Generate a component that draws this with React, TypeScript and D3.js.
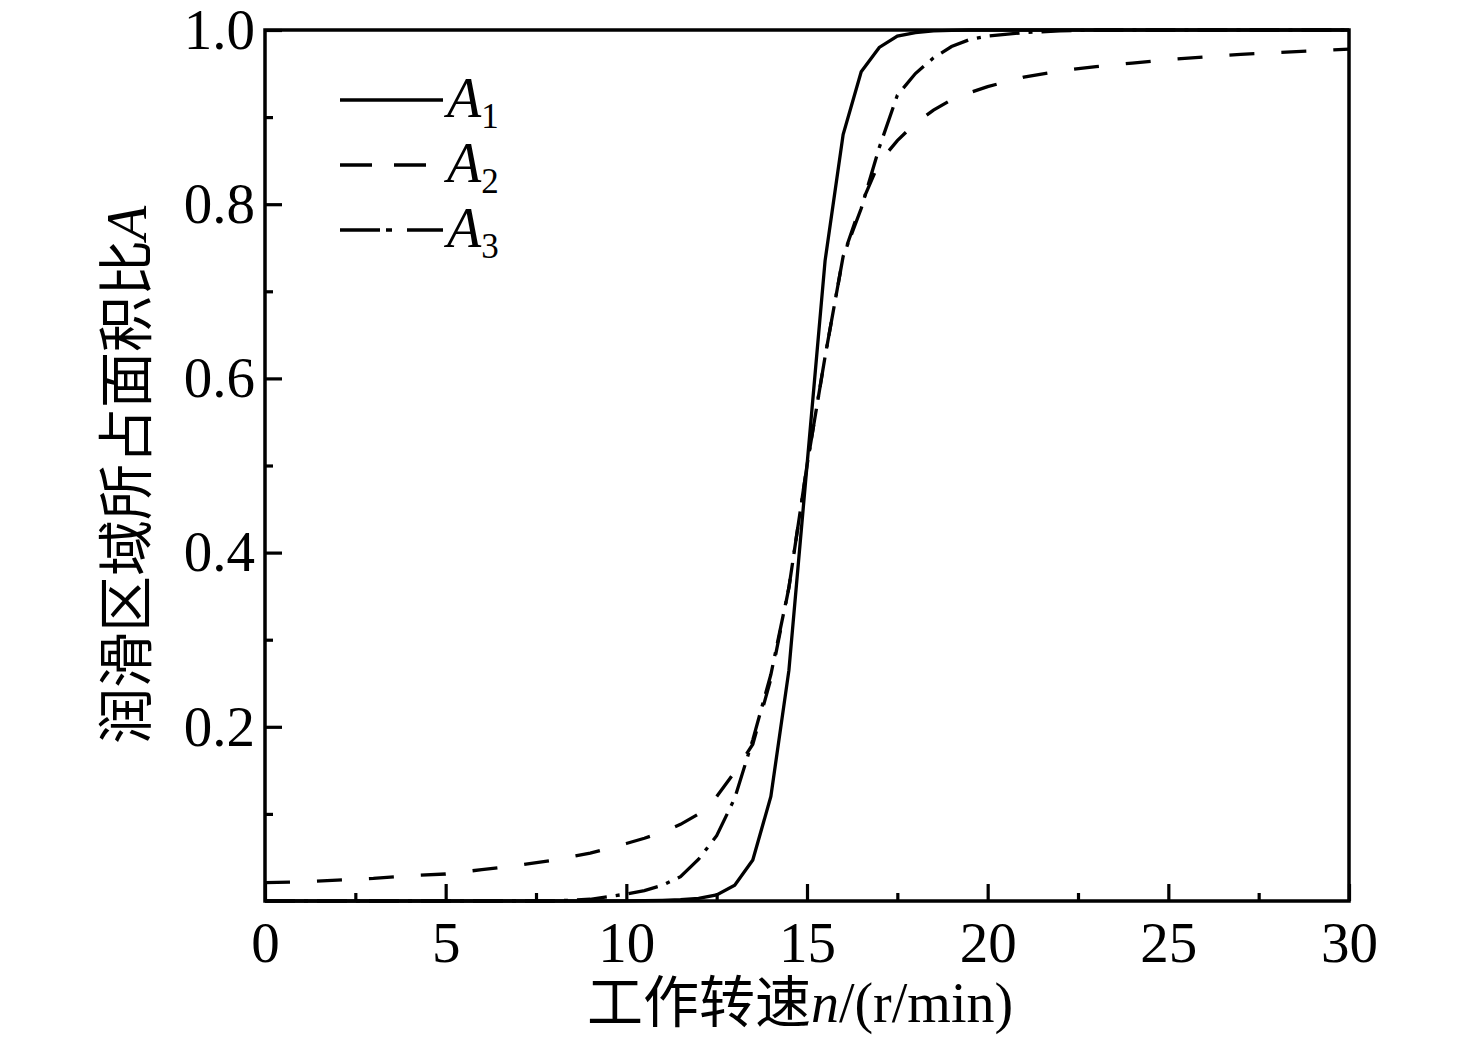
import { useEffect, useRef } from "react";
import * as d3 from "d3";

// working speed n (r/min)
const speeds = [
  0, 1, 2, 3, 4, 5, 6, 7, 8, 9, 10, 10.5, 11, 11.5, 12, 12.5, 13, 13.5, 14,
  14.5, 15, 15.5, 16, 16.5, 17, 17.5, 18, 18.5, 19, 19.5, 20, 21, 22, 23, 24,
  25, 26, 27, 28, 29, 30,
];

const a1 = [
  0, 0, 0, 0, 0, 0, 0, 0, 0, 0, 0.0002, 0.0004, 0.0008, 0.0015, 0.003, 0.007,
  0.018, 0.047, 0.12, 0.265, 0.5, 0.735, 0.88, 0.952, 0.98, 0.993, 0.997,
  0.999, 0.9995, 1, 1, 1, 1, 1, 1, 1, 1, 1, 1, 1, 1,
];

const a2 = [
  0.021, 0.022, 0.024, 0.026, 0.029, 0.031, 0.036, 0.041, 0.047, 0.055, 0.066,
  0.072, 0.079, 0.088, 0.1, 0.12, 0.148, 0.18, 0.255, 0.36, 0.5, 0.625, 0.74,
  0.8, 0.848, 0.873, 0.893, 0.908, 0.92, 0.928, 0.935, 0.946, 0.953, 0.958,
  0.962, 0.966, 0.969, 0.972, 0.974, 0.976, 0.978,
];

const a3 = [
  0, 0, 0, 0, 0, 0, 0, 0, 0, 0.002, 0.008, 0.012, 0.018, 0.028, 0.048, 0.075,
  0.118, 0.185, 0.26, 0.36, 0.5, 0.625, 0.74, 0.795, 0.865, 0.925, 0.95,
  0.968, 0.981, 0.989, 0.993, 0.997, 0.999, 1, 1, 1, 1, 1, 1, 1, 1,
];

const xTicks = [0, 5, 10, 15, 20, 25, 30];
const xMinor = [2.5, 7.5, 12.5, 17.5, 22.5, 27.5];
const yTicks = [0.2, 0.4, 0.6, 0.8, 1.0];
const yMinor = [0.1, 0.3, 0.5, 0.7, 0.9];

const seriesNames = ["1", "2", "3"];
const dashes = ["none", "25,27", "30,9,4,9"];

export default function App() {
  const width = 1476;
  const height = 1044;
  const marginTop = 30;
  const marginRight = 127;
  const marginBottom = 143;
  const marginLeft = 265;
  const ref = useRef(null);

  useEffect(() => {
    ref.current.innerHTML = "";
    const serif = "'Liberation Serif', 'Times New Roman', 'Noto Sans CJK SC', serif";

    const xScale = d3
      .scaleLinear()
      .domain([0, 30])
      .range([marginLeft, width - marginRight]);

    const yScale = d3
      .scaleLinear()
      .domain([0, 1])
      .range([height - marginBottom, marginTop]);

    const svg = d3.select(ref.current);

    const styleAxis = (g) => {
      g.select(".domain").remove();
      g.selectAll(".tick line").attr("stroke", "#000").attr("stroke-width", 3.2);
      g.selectAll(".tick text")
        .attr("fill", "#000")
        .style("font-family", serif)
        .style("font-size", "57px");
    };

    // x axis, ticks point inward
    svg
      .append("g")
      .attr("transform", `translate(0, ${height - marginBottom})`)
      .call(d3.axisBottom(xScale).tickValues(xTicks).tickSize(-17).tickPadding(21))
      .call(styleAxis);
    svg
      .append("g")
      .attr("transform", `translate(0, ${height - marginBottom})`)
      .call(d3.axisBottom(xScale).tickValues(xMinor).tickSize(-8).tickFormat(() => ""))
      .call(styleAxis);

    // y axis
    svg
      .append("g")
      .attr("transform", `translate(${marginLeft}, 0)`)
      .call(
        d3
          .axisLeft(yScale)
          .tickValues(yTicks)
          .tickSize(-17)
          .tickPadding(10)
          .tickFormat(d3.format(".1f")),
      )
      .call(styleAxis);
    svg
      .append("g")
      .attr("transform", `translate(${marginLeft}, 0)`)
      .call(d3.axisLeft(yScale).tickValues(yMinor).tickSize(-8).tickFormat(() => ""))
      .call(styleAxis);

    // curves
    const line = d3
      .line()
      .x((d) => xScale(d[0]))
      .y((d) => yScale(d[1]));

    [a1, a2, a3].forEach((values, i) => {
      svg
        .append("path")
        .datum(speeds.map((n, j) => [n, values[j]]))
        .attr("d", line)
        .attr("fill", "none")
        .attr("stroke", "#000")
        .attr("stroke-width", 3.3)
        .attr("stroke-dasharray", dashes[i]);
    });

    // frame
    svg
      .append("rect")
      .attr("x", marginLeft)
      .attr("y", marginTop)
      .attr("width", width - marginLeft - marginRight)
      .attr("height", height - marginTop - marginBottom)
      .attr("fill", "none")
      .attr("stroke", "#000")
      .attr("stroke-width", 3.5);

    // legend
    const legend = svg.append("g");
    seriesNames.forEach((name, i) => {
      const y = 100 + i * 65;
      legend
        .append("line")
        .attr("x1", 340)
        .attr("x2", 443)
        .attr("y1", y)
        .attr("y2", y)
        .attr("stroke", "#000")
        .attr("stroke-width", 3.3)
        .attr("stroke-dasharray", i === 1 ? "32,22" : i === 2 ? "40,6,6,15" : "none");
      const t = legend
        .append("text")
        .attr("x", 447)
        .attr("y", y + 17)
        .style("font-family", serif)
        .style("font-size", "56px");
      t.append("tspan").style("font-style", "italic").text("A");
      t.append("tspan").attr("dy", 11).style("font-size", "35px").text(name);
    });

    // axis titles
    const xt = svg
      .append("text")
      .attr("x", (marginLeft + width - marginRight) / 2 - 7)
      .attr("y", 1022)
      .attr("text-anchor", "middle")
      .style("font-family", serif)
      .style("font-size", "56px");
    xt.append("tspan").text("工作转速");
    xt.append("tspan").style("font-style", "italic").text("n");
    xt.append("tspan").text("/(r/min)");

    const yt = svg
      .append("text")
      .attr("transform", `translate(146, 475) rotate(-90)`)
      .attr("text-anchor", "middle")
      .style("font-family", serif)
      .style("font-size", "56px");
    yt.append("tspan").text("润滑区域所占面积比");
    yt.append("tspan").style("font-style", "italic").text("A");
  }, []);

  return (
    <svg
      ref={ref}
      width={width}
      height={height}
      style={{ position: "absolute", left: 0, top: 0, background: "#fff" }}
    />
  );
}
